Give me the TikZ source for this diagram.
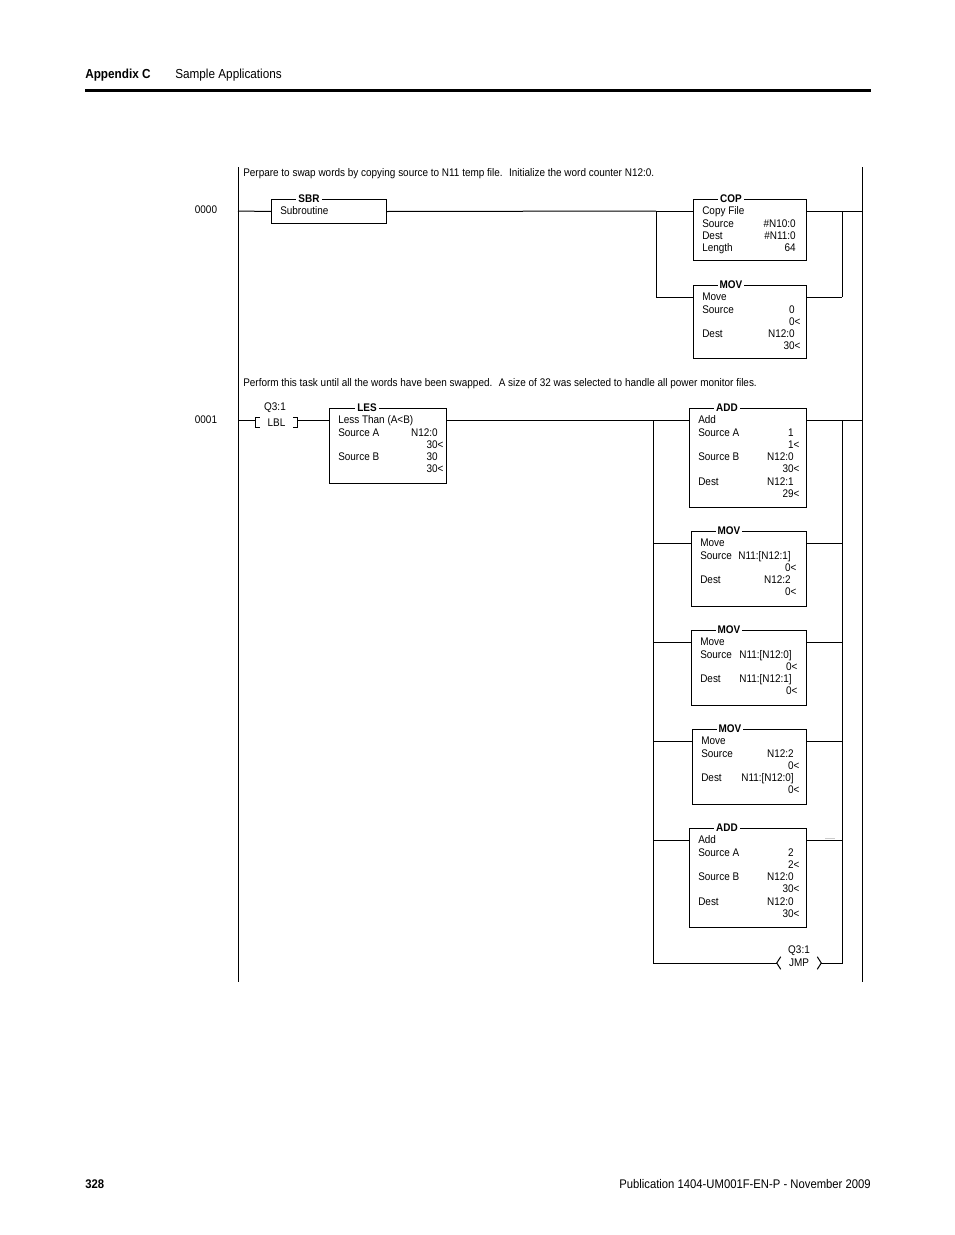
\documentclass[tikz,border=0pt]{standalone}
\usepackage{fontspec}
\setmainfont{Liberation Sans}[FakeStretch=0.9]
\usetikzlibrary{calc}

\newcommand\plcfont{\fontsize{8.3}{9}\selectfont}
\newcommand\pagefont{\fontsize{9.8}{11}\selectfont}
\newcommand\footfont{\fontsize{9.4}{11}\selectfont}
\newcommand\rowstep{12.3}
\newcommand\wireoff{12}
\def\valoff{11}
% instruction box: name, x, y, width, height, title
\newcommand\plcbox[6]{
  \node[plcbox, minimum width=#4*.75pt, minimum height=#5*.75pt] (#1) at (#2, #3) {};
  \node[plctitle] (#1t) at ($(#1.north west)+(38, 3.5)$) {#6};
  \coordinate (#1in) at ($(#1.north west)+(0, \wireoff)$);
  \coordinate (#1out) at ($(#1.north east)+(0, \wireoff)$);
}
% one row of a box: box, row, left text, value
\newcommand\plcrow[4]{
  \if\relax\detokenize{#3}\relax\else
    \node[plctext, anchor=base west] (#1l#2) at ($(#1.north west)+(9, \rowstep*#2+3.4)$) {#3};
  \fi
  \if\relax\detokenize{#4}\relax\else
    \node[plctext, anchor=base east] (#1v#2) at ($(#1.north east)+(-\valoff, \rowstep*#2+3.4)$) {#4};
  \fi
}
% wires into and out of a box: box, left branch, right branch
\newcommand\plcwire[3]{
  \draw[wire] (#2 |- #1in) -- (#1in);
  \draw[wire] (#1out) -- (#3 |- #1out);
}
\newcommand\lt{\rlap{<}}

\tikzset{
  wire/.style={line width=.75pt},
  plcbox/.style={draw, line width=.75pt, anchor=north west, inner sep=0pt},
  plctitle/.style={fill=white, inner xsep=1.5pt, inner ysep=0pt, anchor=base, font=\plcfont\bfseries},
  plctext/.style={inner sep=0pt, font=\plcfont},
  pagetext/.style={inner sep=0pt, anchor=base west, font=\pagefont},
  coil/.style={inner sep=0pt, font=\plcfont}
}

\begin{document}
\begin{tikzpicture}[x=.75pt, y=-.75pt]
  \useasboundingbox (0,0) rectangle (954,1235);

  % page head and foot
  \node[pagetext, font=\pagefont\bfseries] (app) at (85,78) {Appendix C};
  \node[pagetext] (sec) at (175,78) {Sample Applications};
  \draw[line width=2.3pt] (85,90.5) -- (871,90.5);
  \node[pagetext, font=\footfont\bfseries] (pg) at (85,1188) {328};
  \node[pagetext, anchor=base east, font=\footfont] (pub) at (871,1188) {Publication 1404-UM001F-EN-P - November 2009};

  % power rails
  \coordinate (lrailtop) at (238,167);
  \coordinate (lrailbot) at (238,982);
  \coordinate (rrailtop) at (862,167);
  \coordinate (rrailbot) at (862,982);
  \draw[wire] (lrailtop) -- (lrailbot);
  \draw[wire] (rrailtop) -- (rrailbot);

  % rung 0000
  \node[plctext, anchor=base west] (cmt0) at (243,176.5) {Perpare to swap words by copying source to N11 temp file.~ Initialize the word counter N12:0.};
  \node[plctext] (rung0) at (206,210) {0000};
  \coordinate (w0) at (238,211);
  \coordinate (b0l) at (656,211);
  \coordinate (b0r) at (842,211);

  \plcbox{sbr}{271}{199}{115}{24}{SBR}
  \plcrow{sbr}{1}{Subroutine}{}

  \def\valoff{11}
  \plcbox{cop}{693}{199}{113}{61}{COP}
  \plcrow{cop}{1}{Copy File}{}
  \plcrow{cop}{2}{Source}{\#N10:0}
  \plcrow{cop}{3}{Dest}{\#N11:0}
  \plcrow{cop}{4}{Length}{64}

  \def\valoff{12}
  \plcbox{movA}{693}{285}{113}{73}{MOV}
  \plcrow{movA}{1}{Move}{}
  \plcrow{movA}{2}{Source}{0}
  \plcrow{movA}{3}{}{0\lt}
  \plcrow{movA}{4}{Dest}{N12:0}
  \plcrow{movA}{5}{}{30\lt}

  \draw[wire] (w0) -- (sbr.west);
  \draw[wire] (sbr.east) -- (b0l);
  \plcwire{cop}{b0l}{rrailtop}
  \plcwire{movA}{b0l}{b0r}
  \draw[wire] (b0l |- copin) -- (b0l |- movAin);
  \draw[wire] (b0r |- copout) -- (b0r |- movAout);

  % rung 0001
  \node[plctext, anchor=base west] (cmt1) at (243,386.5) {Perform this task until all the words have been swapped.~ A size of 32 was selected to handle all power monitor files.};
  \node[plctext] (rung1) at (206,420) {0001};
  \coordinate (w1) at (238,420);
  \coordinate (b1l) at (653,420);
  \coordinate (b1r) at (842,420);

  \node[coil, minimum width=41*.75pt, minimum height=9*.75pt] (lbl) at (276.5,422.5) {LBL};
  \node[plctext] (lbladdr) at (275,408) {Q3:1};
  \draw[wire] ($(lbl.north west)+(4,0)$) -- (lbl.north west) -- (lbl.south west) -- ++(4,0);
  \draw[wire] ($(lbl.north east)+(-4,0)$) -- (lbl.north east) -- (lbl.south east) -- ++(-4,0);

  \def\valoff{9}
  \plcbox{les}{329}{408}{117}{75}{LES}
  \plcrow{les}{1}{Less Than (A<B)}{}
  \plcrow{les}{2}{Source A}{N12:0}
  \plcrow{les}{3}{}{30\lt}
  \plcrow{les}{4}{Source B}{30}
  \plcrow{les}{5}{}{30\lt}

  \def\valoff{13}
  \plcbox{addA}{689}{408}{117}{99}{ADD}
  \plcrow{addA}{1}{Add}{}
  \plcrow{addA}{2}{Source A}{1}
  \plcrow{addA}{3}{}{1\lt}
  \plcrow{addA}{4}{Source B}{N12:0}
  \plcrow{addA}{5}{}{30\lt}
  \plcrow{addA}{6}{Dest}{N12:1}
  \plcrow{addA}{7}{}{29\lt}

  \def\valoff{16}
  \plcbox{movB}{691}{531}{115}{75}{MOV}
  \plcrow{movB}{1}{Move}{}
  \plcrow{movB}{2}{Source}{N11:[N12:1]}
  \plcrow{movB}{3}{}{0\lt}
  \plcrow{movB}{4}{Dest}{N12:2}
  \plcrow{movB}{5}{}{0\lt}

  \def\valoff{15}
  \plcbox{movC}{691}{630}{115}{75}{MOV}
  \plcrow{movC}{1}{Move}{}
  \plcrow{movC}{2}{Source}{N11:[N12:0]}
  \plcrow{movC}{3}{}{0\lt}
  \plcrow{movC}{4}{Dest}{N11:[N12:1]}
  \plcrow{movC}{5}{}{0\lt}

  \def\valoff{13}
  \plcbox{movD}{692}{729}{114}{75}{MOV}
  \plcrow{movD}{1}{Move}{}
  \plcrow{movD}{2}{Source}{N12:2}
  \plcrow{movD}{3}{}{0\lt}
  \plcrow{movD}{4}{Dest}{N11:[N12:0]}
  \plcrow{movD}{5}{}{0\lt}

  \def\valoff{13}
  \plcbox{addB}{689}{828}{117}{99}{ADD}
  \plcrow{addB}{1}{Add}{}
  \plcrow{addB}{2}{Source A}{2}
  \plcrow{addB}{3}{}{2\lt}
  \plcrow{addB}{4}{Source B}{N12:0}
  \plcrow{addB}{5}{}{30\lt}
  \plcrow{addB}{6}{Dest}{N12:0}
  \plcrow{addB}{7}{}{30\lt}

  \node[coil, minimum width=44*.75pt, minimum height=12*.75pt] (jmp) at (799,963) {JMP};
  \node[plctext] (jmpaddr) at (799,951) {Q3:1};
  \draw[wire] ($(jmp.north west)+(4,0)$) -- (jmp.west) -- ($(jmp.south west)+(4,0)$);
  \draw[wire] ($(jmp.north east)+(-4,0)$) -- (jmp.east) -- ($(jmp.south east)+(-4,0)$);

  \draw[wire] (w1) -- (w1 -| lbl.west);
  \draw[wire] (w1 -| lbl.east) -- (w1 -| les.west);
  \draw[wire] (w1 -| les.east) -- (b1l);
  \plcwire{addA}{b1l}{rrailtop}
  \plcwire{movB}{b1l}{b1r}
  \plcwire{movC}{b1l}{b1r}
  \plcwire{movD}{b1l}{b1r}
  \plcwire{addB}{b1l}{b1r}
  \draw[wire] (b1l |- addAin) -- (b1l |- jmp.west) -- (jmp.west);
  \draw[wire] (jmp.east) -- (b1r |- jmp.east) -- (b1r |- addAout);
  \draw[gray!40, line width=1pt] (825,838.5) -- (835,838.5);
\end{tikzpicture}
\end{document}
